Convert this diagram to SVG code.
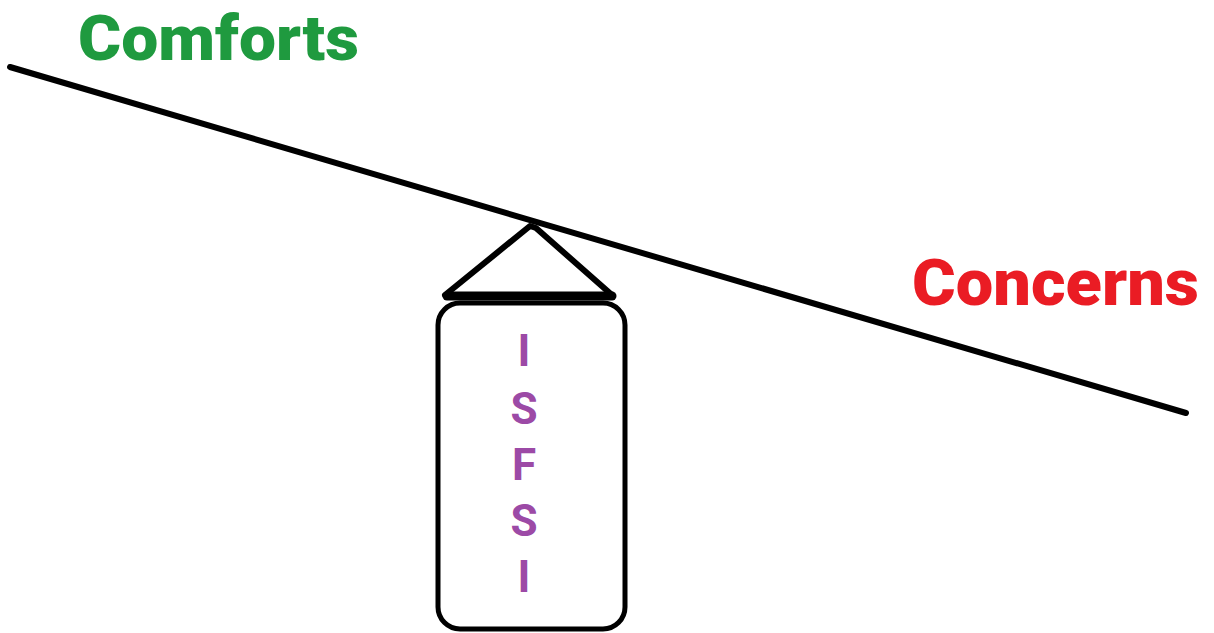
<svg xmlns="http://www.w3.org/2000/svg" width="1214" height="633" viewBox="0 0 1214 633">
  <style>
    .ink { fill: none; stroke: #000; stroke-linecap: round; stroke-linejoin: round; }
    .label { font-family: Roboto, "Liberation Sans", sans-serif; font-weight: 900; }
    .letter { font-family: Roboto, "Liberation Sans", sans-serif; font-weight: 700; font-size: 44px; fill: #9c4aa6; text-anchor: middle; }
  </style>
  <rect width="1214" height="633" fill="#fff"/>

  <g id="comforts">
    <text class="label" x="78" y="60" font-size="63" fill="#1f9a3f" textLength="281" lengthAdjust="spacingAndGlyphs">Comforts</text>
  </g>

  <g id="concerns">
    <text class="label" x="912" y="305" font-size="64" fill="#ea1c24" textLength="287" lengthAdjust="spacingAndGlyphs">Concerns</text>
  </g>

  <g id="connectors">
    <!-- tilted beam -->
    <line class="ink" x1="10" y1="67" x2="1186" y2="413" stroke-width="6"/>
  </g>

  <g id="fulcrum">
    <path class="ink" d="M445 295 L530 226 L536 228 L612 295" stroke-width="6"/>
    <line class="ink" x1="447" y1="296" x2="612" y2="296" stroke-width="9"/>
  </g>

  <g id="isfsi">
    <rect class="ink" x="438" y="303" width="187" height="326" rx="22" stroke-width="5"/>
    <text class="letter" x="524" y="366">I</text>
    <text class="letter" x="524" y="424">S</text>
    <text class="letter" x="524" y="480">F</text>
    <text class="letter" x="524" y="536">S</text>
    <text class="letter" x="524" y="592">I</text>
  </g>
</svg>
